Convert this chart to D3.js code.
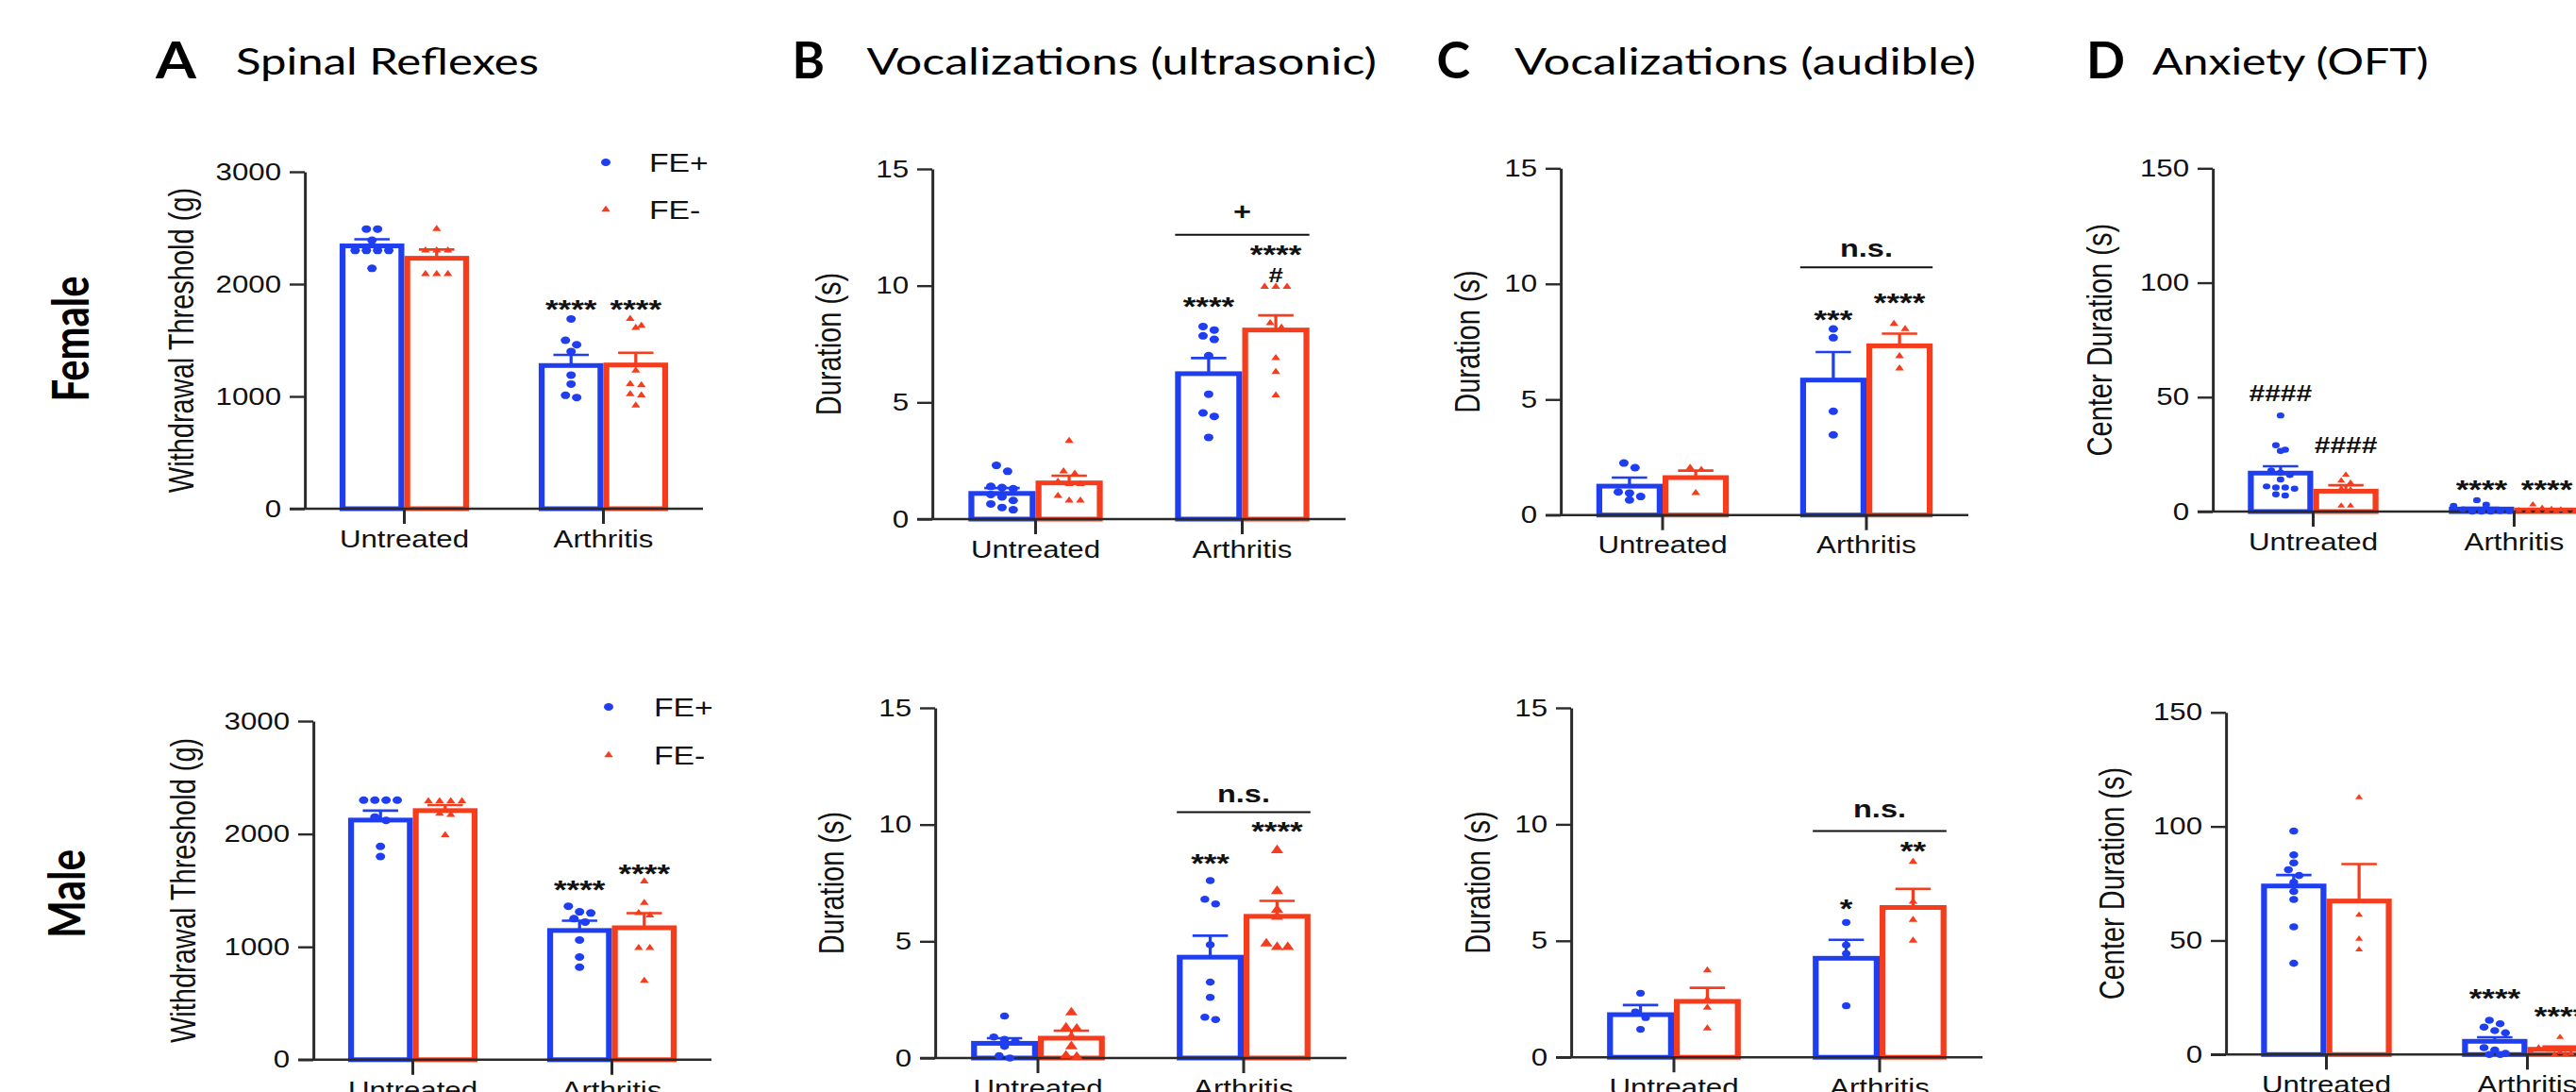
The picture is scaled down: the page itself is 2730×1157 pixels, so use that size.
<!DOCTYPE html>
<html>
<head>
<meta charset="utf-8">
<script src="https://cdn.jsdelivr.net/npm/d3@7"></script>
<style>
  body { margin: 0; background: #fff; }
  svg { display: block; }
</style>
</head>
<body>
<svg width="2730" height="1157"></svg>
<script>
// ---- data -------------------------------------------------------------
const categories = ["Untreated", "Arthritis"];
const series = ["FE+", "FE-"];
const sexes = ["Female", "Male"];
const letters = ["A", "B", "C", "D"];
const titles = ["Spinal Reflexes", "Vocalizations (ultrasonic)", "Vocalizations (audible)", "Anxiety (OFT)"];
const yLabels = ["Withdrawal Threshold (g)", "Duration (s)", "Duration (s)", "Center Duration (s)"];
const yTicks = [[0, 1000, 2000, 3000], [0, 5, 10, 15], [0, 5, 10, 15], [0, 50, 100, 150]];

// means[sex][panel][category][series]
const means = [
  [[[2340, 2230], [1275, 1280]],
   [[1.10, 1.55], [6.23, 8.10]],
   [[1.25, 1.62], [5.84, 7.32]],
   [[16.8, 8.9], [1.1, 0.7]]],
  [[[2123, 2207], [1145, 1169]],
   [[0.63, 0.85], [4.32, 6.07]],
   [[1.83, 2.40], [4.25, 6.43]],
   [[73.9, 67.3], [5.8, 2.3]]]
];

const sems = [
  [[[59, 78], [95, 109]],
   [[0.23, 0.31], [0.67, 0.63]],
   [[0.37, 0.30], [1.21, 0.53]],
   [[3.0, 2.6], [0.5, 0.3]]],
  [[[84, 49], [86, 129]],
   [[0.22, 0.32], [0.92, 0.66]],
   [[0.41, 0.58], [0.79, 0.80]],
   [[4.8, 16.2], [1.8, 1.2]]]
];

const points = [
  [ // Female
    [[[2490, 2490, 2390, 2300, 2300, 2300, 2300, 2140], [2490, 2300, 2300, 2300, 2090, 2090, 2090]],
     [[1690, 1500, 1460, 1400, 1190, 1110, 1010, 990], [1690, 1630, 1610, 1230, 1110, 1100, 1020, 1010, 920]]],
    [[[2.3, 2.05, 1.4, 1.35, 1.3, 1.05, 0.95, 0.8, 0.65, 0.5, 0.4], [3.35, 2.05, 1.95, 1.6, 1.5, 1.5, 1.0, 0.8, 0.8]],
     [[8.25, 8.1, 7.85, 7.7, 7.0, 5.35, 4.55, 4.4, 3.5], [9.95, 9.95, 9.95, 8.4, 8.2, 6.9, 6.3, 5.3]]],
    [[[2.25, 2.05, 1.0, 0.95, 0.8, 0.65], [2.05, 1.95, 0.95]],
     [[8.05, 7.67, 4.49, 3.47], [8.27, 8.05, 6.87, 6.34]]],
    [[[42, 29, 27, 26.5, 18, 17, 16, 14, 11, 10.5, 10.5, 10, 7.5, 7], [16, 13.5, 12.5, 10, 9.5, 2.5, 2.5]],
     [[5, 3, 2.5, 1, 0.5, 0.3, 0.2, 0.2, 0.2, 0, 0, 0], [3, 1.5, 1, 0.8, 0.5, 0.3, 0.2, 0.2, 0.1, 0, 0]]]
  ],
  [ // Male
    [[[2300, 2300, 2300, 2300, 2150, 2120, 1890, 1800], [2290, 2290, 2290, 2290, 2180, 2170, 1990]],
     [[1360, 1310, 1300, 1250, 1220, 1060, 910, 820], [1580, 1390, 1300, 1280, 990, 990, 700]]],
    [[[1.8, 0.9, 0.8, 0.7, 0.5, 0.1, 0.0], [1.95, 1.3, 1.25, 0.9, 0.5, 0.1, 0.05]],
     [[7.6, 6.8, 6.6, 4.85, 3.25, 2.6, 1.75, 1.65], [8.9, 7.15, 6.35, 6.05, 4.9, 4.75, 4.75]]],
    [[[2.75, 1.95, 1.7, 1.2], [3.73, 2.5, 2.13, 1.24]],
     [[5.79, 4.82, 4.45, 2.21], [8.39, 6.68, 5.9, 5.01]]],
    [[[98, 87.5, 84, 81, 78.5, 75.5, 71.5, 68, 56, 40], [112.7, 61.2, 50.7, 46]],
     [[15, 13.5, 12, 10.5, 9.5, 3, 2, 0.5, 0, 0], [7.6, 3, 2, 1, 0.5, 0.3, 0, 0]]]
  ]
];

// significance marks: [sex, panel, category, series, label, level]
const marks = [
  [0, 0, 1, 0, "****", 1840], [0, 0, 1, 1, "****", 1840],
  [0, 1, 1, 0, "****", 9.4], [0, 1, 1, 1, "#", 10.45], [0, 1, 1, 1, "****", 11.65],
  [0, 2, 1, 0, "***", 8.76], [0, 2, 1, 1, "****", 9.51],
  [0, 3, 0, 0, "####", 52], [0, 3, 0, 1, "####", 29], [0, 3, 1, 0, "****", 12.8], [0, 3, 1, 1, "****", 12.8],
  [1, 0, 1, 0, "****", 1570], [1, 0, 1, 1, "****", 1714],
  [1, 1, 1, 0, "***", 8.63], [1, 1, 1, 1, "****", 10.0],
  [1, 2, 1, 0, "*", 6.68], [1, 2, 1, 1, "**", 9.14],
  [1, 3, 1, 0, "****", 27.8], [1, 3, 1, 1, "****", 19.8]
];

// brackets between FE+ and FE-: [sex, panel, category, lineLevel, label, labelLevel]
const brackets = [
  [0, 1, 1, 12.18, "+", 13.15],
  [0, 2, 1, 10.72, "n.s.", 11.43],
  [1, 1, 1, 10.53, "n.s.", 11.24],
  [1, 2, 1, 9.71, "n.s.", 10.56]
];

// ---- layout -----------------------------------------------------------
const K = 1.25;                 // the whole figure is stretched horizontally
const sx = v => v / K;
const colors = ["#1e3ef0", "#f53c1d"];
const axisColor = "#2a2a2a";
const arial = "'Liberation Sans', Arial, sans-serif";
const calibri = "Lato, 'Open Sans', sans-serif";

const panelLayout = [
  [{ ax: 323, step: 211, y0: 539, yT: 182, labX: 191.5 },
   { ax: 988, step: 219, y0: 550, yT: 179, labX: 878 },
   { ax: 1654, step: 216, y0: 545.7, yT: 178.3, labX: 1555 },
   { ax: 2345, step: 213, y0: 542, yT: 178.3, labX: 2225 }],
  [{ ax: 332, step: 211, y0: 1122.8, yT: 764, labX: 194 },
   { ax: 991, step: 218, y0: 1121, yT: 750, labX: 880.5 },
   { ax: 1665, step: 218, y0: 1120.2, yT: 750, labX: 1566 },
   { ax: 2359, step: 213, y0: 1117.3, yT: 754.8, labX: 2238 }]
];
// [dot radius, triangle side]
const markerSize = [
  [[4, 7.5], [4, 7.5], [4, 7.5], [3.2, 6.5]],
  [[4, 7.5], [3.8, 10.5], [3.6, 7.5], [3.8, 6.5]]
];
const titleLayout = [
  { lx: 165, lw: 43, tx: 250, tw: 321 },
  { lx: 839.5, lw: 34.5, tx: 918.5, tw: 540.5 },
  { lx: 1522.5, lw: 35.5, tx: 1605, tw: 489 },
  { lx: 2211, lw: 41, tx: 2281, tw: 292.6 }
];
const rowLabels = [{ x: 75, y: 359, len: 133 }, { x: 71, y: 947, len: 94 }];
const legendPos = [{ x: 642, y: 172, tx: 688, gap: 50 }, { x: 645, y: 749, tx: 693, gap: 51 }];

const svg = d3.select("svg");
const g = svg.append("g").attr("transform", `scale(${K},1)`);

const tri = side => d3.symbol(d3.symbolTriangle, side * side * Math.sqrt(3) / 4)();

function drawMarker(sel, s, cx, cy, size) {
  if (s === 0) {
    sel.append("circle").attr("cx", cx).attr("cy", cy).attr("r", size[0]).attr("fill", colors[0]);
  } else {
    sel.append("path").attr("d", tri(size[1]))
      .attr("transform", `translate(${cx},${cy})`).attr("fill", colors[1]);
  }
}

// beeswarm-like spread: rows of near-equal values centred on the bar
function swarm(values, y, r) {
  const step = 2 * r + 1.5;
  const sorted = values.slice().sort((a, b) => b - a);
  const rows = [];
  sorted.forEach(v => {
    const py = y(v);
    const last = rows[rows.length - 1];
    if (last && Math.abs(last.y - py) < r * 1.8) last.items.push(py);
    else rows.push({ y: py, items: [py] });
  });
  const out = [];
  rows.forEach(rw => rw.items.forEach((py, i) => out.push({ dx: (i - (rw.items.length - 1) / 2) * step, y: py })));
  return out;
}

function glyphOffset(label, fs) {
  if (label[0] === "*") return 0.6 * fs;
  if (label[0] === "#") return 0.36 * fs;
  if (label[0] === "+") return 0.33 * fs;
  return 0.26 * fs;
}

function markFont(label) {
  if (label[0] === "*") return 28;
  if (label.length > 1) return 24;   // "####"
  return 22;
}

// ---- titles -------------------------------------------------------------
letters.forEach((L, p) => {
  const t = titleLayout[p];
  g.append("text").attr("x", sx(t.lx)).attr("y", 83)
    .attr("font-family", calibri).attr("font-weight", 700).attr("font-size", 54)
    .attr("textLength", sx(t.lw)).attr("lengthAdjust", "spacingAndGlyphs")
    .text(L);
  g.append("text").attr("x", sx(t.tx)).attr("y", 79.5)
    .attr("font-family", calibri).attr("font-size", 38)
    .attr("textLength", sx(t.tw)).attr("lengthAdjust", "spacingAndGlyphs")
    .text(titles[p]);
});

// ---- panels -------------------------------------------------------------
sexes.forEach((sex, row) => {
  const rl = rowLabels[row];
  g.append("text")
    .attr("transform", `translate(${sx(rl.x)},${rl.y}) rotate(-90)`)
    .attr("text-anchor", "middle").attr("dy", "0.36em")
    .attr("font-family", calibri).attr("font-weight", 700).attr("font-size", 43)
    .attr("textLength", rl.len).attr("lengthAdjust", "spacingAndGlyphs")
    .text(sex);

  letters.forEach((L, p) => {
    const lay = panelLayout[row][p];
    const size = markerSize[row][p];
    const yMax = yTicks[p][yTicks[p].length - 1];
    const y = d3.scaleLinear().domain([0, yMax]).range([lay.y0, lay.yT]);
    const x = d3.scaleBand().domain(categories)
      .range([sx(lay.ax), sx(lay.ax + 2 * lay.step)])
      .paddingInner(0.35).paddingOuter(0.175);
    const xs = d3.scaleBand().domain(series).range([0, x.bandwidth()]);
    const pg = g.append("g");
    const sw = 5;

    // bars
    categories.forEach((c, ci) => series.forEach((s, si) => {
      const left = x(c) + xs(s);
      const m = means[row][p][ci][si];
      pg.append("rect")
        .attr("x", left + sw / 2).attr("width", xs.bandwidth() - sw)
        .attr("y", y(m)).attr("height", Math.max(0, lay.y0 - y(m)))
        .attr("fill", "#fff").attr("stroke", colors[si]).attr("stroke-width", sw);
    }));

    // error bars (upper only)
    categories.forEach((c, ci) => series.forEach((s, si) => {
      const cx = x(c) + xs(s) + xs.bandwidth() / 2;
      const m = means[row][p][ci][si];
      const top = y(m + sems[row][p][ci][si]);
      pg.append("path")
        .attr("d", `M${cx},${y(m)}V${top}M${cx - 15},${top}H${cx + 15}`)
        .attr("fill", "none").attr("stroke", colors[si]).attr("stroke-width", 2.6);
    }));

    // axes
    const ya = pg.append("g").attr("transform", `translate(${sx(lay.ax)},0)`)
      .call(d3.axisLeft(y).tickValues(yTicks[p]).tickFormat(d3.format("d"))
        .tickSize(sx(16)).tickSizeOuter(0).tickPadding(sx(9)));
    const xa = pg.append("g").attr("transform", `translate(0,${lay.y0})`)
      .call(d3.axisBottom(x).tickSize(16).tickSizeOuter(0).tickPadding(7));
    xa.select(".domain").attr("d", `M${sx(lay.ax - 16)},0H${sx(lay.ax + 2 * lay.step)}`);
    [ya, xa].forEach(a => {
      a.attr("font-family", arial).attr("font-size", 25);
      a.selectAll("path,line").attr("stroke", axisColor).attr("stroke-width", 2.4);
      a.selectAll("text").attr("fill", "#111");
    });

    // points
    categories.forEach((c, ci) => series.forEach((s, si) => {
      const cx = x(c) + xs(s) + xs.bandwidth() / 2;
      swarm(points[row][p][ci][si], y, size[0]).forEach(pt => drawMarker(pg, si, cx + pt.dx, pt.y, size));
    }));

    // y label
    pg.append("text")
      .attr("transform", `translate(${sx(lay.labX)},${(lay.y0 + lay.yT) / 2}) rotate(-90)`)
      .attr("text-anchor", "middle").attr("dy", "0.36em")
      .attr("font-family", arial).attr("font-size", 29).attr("fill", "#111")
      .text(yLabels[p]);

    // significance marks
    marks.filter(d => d[0] === row && d[1] === p).forEach(([, , ci, si, label, lev]) => {
      const fs = markFont(label);
      pg.append("text")
        .attr("x", x(categories[ci]) + xs(series[si]) + xs.bandwidth() / 2)
        .attr("y", y(lev) + glyphOffset(label, fs))
        .attr("text-anchor", "middle").attr("font-family", arial).attr("font-weight", 700)
        .attr("font-size", fs).attr("fill", "#111").text(label);
    });
    brackets.filter(d => d[0] === row && d[1] === p).forEach(([, , ci, lev, label, labLev]) => {
      const x0 = x(categories[ci]), x1 = x0 + x.bandwidth();
      pg.append("line").attr("x1", x0).attr("x2", x1).attr("y1", y(lev)).attr("y2", y(lev))
        .attr("stroke", "#111").attr("stroke-width", 2);
      const fs = 26;
      pg.append("text").attr("x", (x0 + x1) / 2).attr("y", y(labLev) + glyphOffset(label, fs))
        .attr("text-anchor", "middle").attr("font-family", arial).attr("font-weight", 700)
        .attr("font-size", fs).attr("fill", "#111").text(label);
    });
  });

  // legend (in panel A)
  const lp = legendPos[row];
  const size = markerSize[row][0];
  series.forEach((s, si) => {
    const cy = lp.y + si * lp.gap;
    drawMarker(g, si, sx(lp.x), cy, size);
    g.append("text").attr("x", sx(lp.tx)).attr("y", cy).attr("dy", "0.36em")
      .attr("font-family", arial).attr("font-size", 27).attr("fill", "#111").text(s);
  });
});
</script>
</body>
</html>
